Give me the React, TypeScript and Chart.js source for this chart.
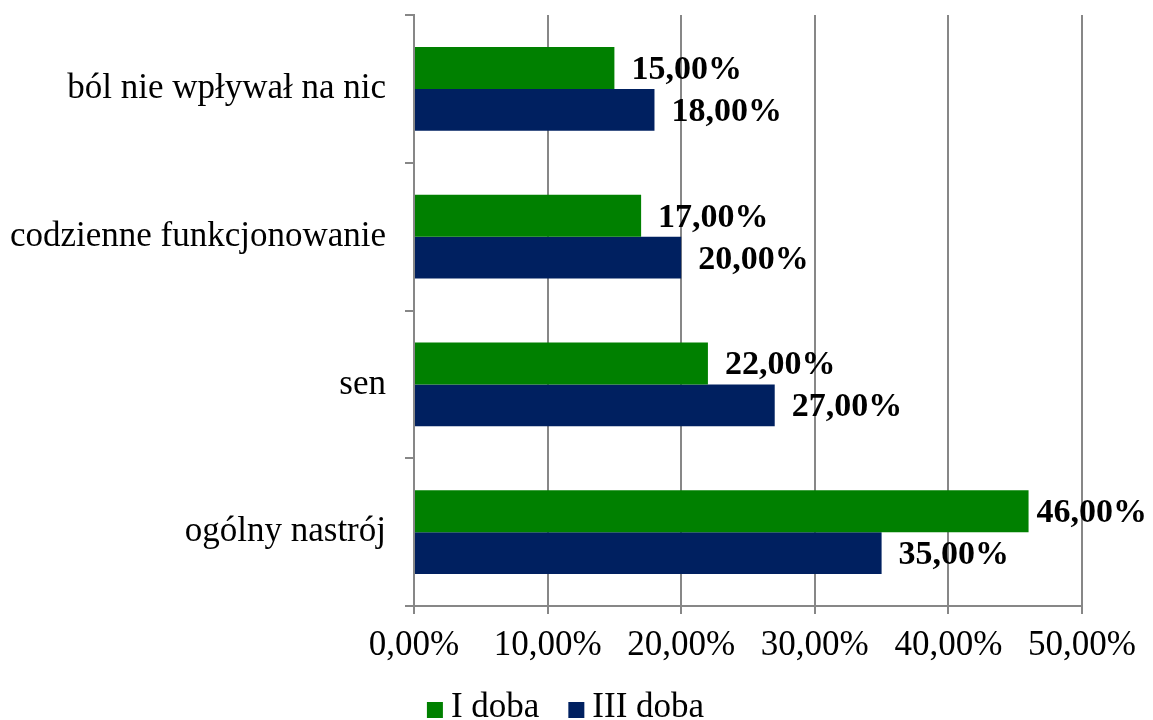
import React, { useEffect, useRef } from "react";
import { Chart, registerables } from "chart.js";

Chart.register(...registerables);

const categories = [
  "ból nie wpływał na nic",
  "codzienne funkcjonowanie",
  "sen",
  "ogólny nastrój",
];
const seriesNames = ["I doba", "III doba"];
const day1Values = [15, 17, 22, 46];
const day3Values = [18, 20, 27, 35];
const xTicks = [0, 10, 20, 30, 40, 50];

const FONT = "'Liberation Serif', 'Times New Roman', serif";
const GREEN = "#008000";
const NAVY = "#002060";
const GRID = "#878787";

const fmt = (v: number) => v.toFixed(2).replace(".", ",") + "%";

const valueLabels = {
  id: "valueLabels",
  afterDatasetsDraw(chart: any) {
    const ctx = chart.ctx;
    ctx.save();
    ctx.font = `bold 34px ${FONT}`;
    ctx.fillStyle = "#000";
    ctx.textAlign = "left";
    ctx.textBaseline = "alphabetic";
    chart.data.datasets.forEach((ds: any, di: number) => {
      const meta = chart.getDatasetMeta(di);
      meta.data.forEach((bar: any, i: number) => {
        const txt = fmt(ds.data[i]);
        const w = ctx.measureText(txt).width;
        const x = Math.min(bar.x + 17, chart.width - 6 - w);
        ctx.fillText(txt, x, bar.y + 11);
      });
    });
    ctx.restore();
  },
};

const bottomLegend = {
  id: "bottomLegend",
  afterDraw(chart: any) {
    const ctx = chart.ctx;
    const box = 16;
    const gap = 8;
    const itemGap = 29;
    ctx.save();
    ctx.font = `35px ${FONT}`;
    const items = chart.data.datasets.map((ds: any) => ({
      text: ds.label,
      color: ds.backgroundColor,
      w: ctx.measureText(ds.label).width,
    }));
    const total =
      items.reduce((s: number, it: any) => s + box + gap + it.w, 0) +
      itemGap * (items.length - 1);
    let x = 565.5 - total / 2;
    const baseline = 717;
    items.forEach((it: any) => {
      ctx.fillStyle = it.color;
      ctx.fillRect(x, baseline - 15, box, box);
      ctx.fillStyle = "#000";
      ctx.textAlign = "left";
      ctx.textBaseline = "alphabetic";
      ctx.fillText(it.text, x + box + gap, baseline);
      x += box + gap + it.w + itemGap;
    });
    ctx.restore();
  },
};

export default function App() {
  const ref = useRef<HTMLCanvasElement>(null);
  useEffect(() => {
    const canvas = ref.current;
    if (!canvas) return;
    const chart = new Chart(canvas, {
      type: "bar",
      data: {
        labels: categories,
        datasets: [
          {
            label: seriesNames[0],
            data: day1Values,
            backgroundColor: GREEN,
            categoryPercentage: 0.5685,
            barPercentage: 1,
          },
          {
            label: seriesNames[1],
            data: day3Values,
            backgroundColor: NAVY,
            categoryPercentage: 0.5685,
            barPercentage: 1,
          },
        ],
      },
      options: {
        indexAxis: "y",
        responsive: false,
        animation: false,
        layout: { padding: { top: 15, right: 71, left: 0, bottom: 54 } },
        scales: {
          x: {
            min: 0,
            max: 50,
            afterBuildTicks: (scale: any) => {
              scale.ticks = xTicks.map((v) => ({ value: v }));
            },
            afterFit: (scale: any) => {
              scale.height = 60;
              scale.paddingLeft = 0;
              scale.paddingRight = 0;
            },
            grid: {
              color: GRID,
              lineWidth: 2,
              drawOnChartArea: true,
              drawTicks: true,
              tickLength: 8,
            },
            border: { display: true, color: GRID, width: 2 },
            ticks: {
              color: "#000",
              font: { family: FONT, size: 35 },
              padding: 11,
              maxRotation: 0,
              callback: (v: any) => fmt(Number(v)),
            },
          },
          y: {
            afterFit: (scale: any) => {
              scale.width = 414;
              scale.paddingTop = 0;
              scale.paddingBottom = 0;
            },
            grid: {
              color: GRID,
              lineWidth: 2,
              drawOnChartArea: false,
              drawTicks: true,
              tickLength: 9,
              offset: true,
            },
            border: { display: true, color: GRID, width: 2 },
            ticks: {
              color: "#000",
              font: { family: FONT, size: 35 },
              padding: 19,
            },
          },
        },
        plugins: {
          tooltip: { enabled: false },
          legend: { display: false },
        },
      },
      plugins: [valueLabels, bottomLegend],
    } as any);
    return () => chart.destroy();
  }, []);
  return (
    <div style={{ position: "fixed", left: 0, top: 0, width: 1153, height: 720, background: "#fff" }}>
      <canvas ref={ref} width={1153} height={720} />
    </div>
  );
}
